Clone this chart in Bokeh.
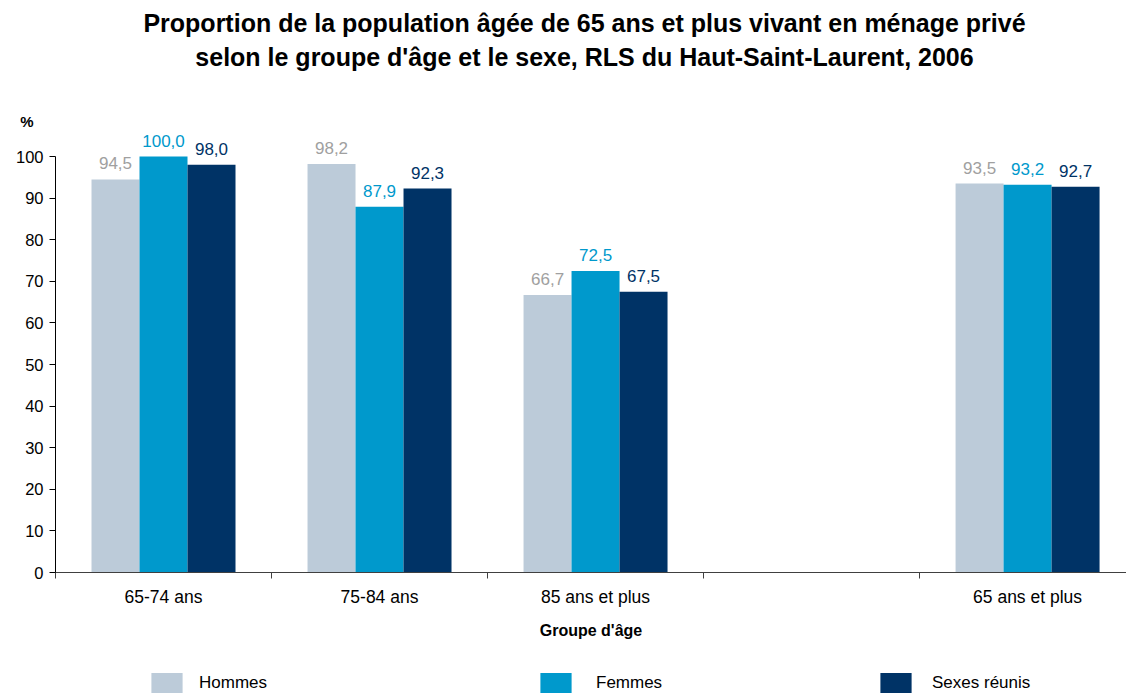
from bokeh.plotting import figure
from bokeh.models import (Range1d, FixedTicker, Legend, LegendItem, Label,
                          ColumnDataSource)
from bokeh.layouts import column
from bokeh.core.properties import value
from bokeh.embed import file_html
from bokeh.resources import INLINE

# ---- data ----
categories = ["65-74 ans", "75-84 ans", "85 ans et plus", "", "65 ans et plus"]
series_names = ["Hommes", "Femmes", "Sexes réunis"]
hommes = [94.5, 98.2, 66.7, None, 93.5]
femmes = [100.0, 87.9, 72.5, None, 93.2]
sexes = [98.0, 92.3, 67.5, None, 92.7]
y_ticks = [0, 10, 20, 30, 40, 50, 60, 70, 80, 90, 100]
title_lines = ["Proportion de la population âgée de 65 ans et plus vivant en ménage privé",
               "selon le groupe d'âge et le sexe, RLS du Haut-Saint-Laurent, 2006"]
x_title = "Groupe d'âge"
y_title = "%"

bar_colors = ["#bccbd9", "#0099cc", "#003366"]
label_colors = ["#a0a0a0", "#0099cc", "#003366"]

FONT = "Liberation Sans"
W = 1126


def bare(fig):
    fig.outline_line_color = None
    fig.grid.visible = False
    fig.background_fill_color = "white"
    fig.border_fill_color = "white"


def series_source(vals, off):
    xs = [i + 0.5 + off for i, v in enumerate(vals) if v is not None]
    ys = [v for v in vals if v is not None]
    txt = [f"{v:.1f}".replace(".", ",") for v in ys]
    return ColumnDataSource(dict(x=xs, top=ys, txt=txt))


bw = 0.2222
offsets = [-bw, 0.0, bw]
all_vals = [hommes, femmes, sexes]

# ---- top strip: titles and "%" (as a y-axis label) ----
TOP_H = 130
tf = figure(width=W, height=TOP_H, output_backend="svg", toolbar_location=None,
            x_range=Range1d(0, 1), y_range=Range1d(0, 1),
            x_axis_location=None, y_axis_location="left",
            min_border=0, min_border_left=0, min_border_right=0,
            min_border_top=0, min_border_bottom=0)
bare(tf)
ta = tf.yaxis[0]
ta.ticker = FixedTicker(ticks=[0.065])
ta.major_label_overrides = {0.065: y_title}
ta.axis_line_color = None
ta.major_tick_line_color = None
ta.minor_tick_line_color = None
ta.major_tick_out = 0
ta.major_label_standoff = 22
ta.major_label_text_font = FONT
ta.major_label_text_font_style = "bold"
ta.major_label_text_font_size = "15px"
ta.major_label_text_color = "black"

tf.add_layout(Label(x=529, y=TOP_H - 22, x_units="screen", y_units="screen",
                    text=title_lines[0], text_align="center",
                    text_font=FONT, text_font_style="bold", text_font_size="25px",
                    text_baseline="middle", text_color="black"))
tf.add_layout(Label(x=529, y=TOP_H - 56.5, x_units="screen", y_units="screen",
                    text=title_lines[1], text_align="center",
                    text_font=FONT, text_font_style="bold", text_font_size="25px",
                    text_baseline="middle", text_color="black"))

# ---- main chart ----
p = figure(width=W, height=656 - TOP_H, output_backend="svg", toolbar_location=None,
           x_range=Range1d(0, 4.958), y_range=Range1d(0, (572 - TOP_H) / 4.16),
           min_border_left=55, min_border_right=0, min_border_top=0,
           min_border_bottom=84)
bare(p)

for vals, col, lcol, off in zip(all_vals, bar_colors, label_colors, offsets):
    src = series_source(vals, off)
    p.vbar(x="x", top="top", width=bw, bottom=0, source=src,
           fill_color=col, line_color=None)
    p.text(x="x", y="top", text="txt", source=src, text_align="center",
           text_baseline="bottom", y_offset=-10, text_color=lcol,
           text_font_size="17px", text_font=value(FONT))

xa = p.xaxis[0]
xa.ticker = FixedTicker(ticks=[i + 0.5 for i, c in enumerate(categories) if c],
                        minor_ticks=list(range(len(categories) + 1)))
xa.major_label_overrides = {i + 0.5: c for i, c in enumerate(categories) if c}
xa.bounds = (0, len(categories))
xa.major_tick_out = 0
xa.major_tick_in = 0
xa.minor_tick_out = 6
xa.minor_tick_in = 0
xa.axis_line_color = "#404040"
xa.minor_tick_line_color = "#404040"
xa.major_label_text_font = FONT
xa.major_label_text_font_size = "17.5px"
xa.major_label_text_color = "black"
xa.major_label_standoff = 8
xa.axis_label = x_title
xa.axis_label_text_font = FONT
xa.axis_label_text_font_style = "bold"
xa.axis_label_text_font_size = "16px"
xa.axis_label_text_color = "black"
xa.axis_label_standoff = 12

ya = p.yaxis[0]
ya.ticker = FixedTicker(ticks=y_ticks)
ya.bounds = (y_ticks[0], y_ticks[-1])
ya.major_tick_out = 6
ya.major_tick_in = 0
ya.minor_tick_out = 0
ya.minor_tick_in = 0
ya.axis_line_color = "black"
ya.major_tick_line_color = "black"
ya.major_label_text_font = FONT
ya.major_label_text_font_size = "16.5px"
ya.major_label_text_color = "black"
ya.major_label_standoff = 6

# ---- legend strip (bars kept outside its visible range) ----
lf = figure(width=W, height=40, output_backend="svg", toolbar_location=None,
            x_range=Range1d(-3, -2), y_range=Range1d(0, 1),
            x_axis_location=None, y_axis_location=None,
            min_border=0, min_border_left=0, min_border_right=0,
            min_border_top=0, min_border_bottom=0)
bare(lf)
legend_x = [92, 481, 821]
legend_gap = [13, 21, 17]
for vals, name, col, off, lx, gap in zip(all_vals, series_names, bar_colors,
                                          offsets, legend_x, legend_gap):
    r = lf.vbar(x="x", top="top", width=bw, bottom=0,
                source=series_source(vals, off),
                fill_color=col, line_color=None)
    lg = Legend(items=[LegendItem(label=name, renderers=[r])],
                location=(lx, 1), orientation="horizontal",
                glyph_width=39, glyph_height=25, label_standoff=gap,
                padding=0, margin=0, spacing=0,
                border_line_color=None, background_fill_alpha=0,
                label_text_font=FONT, label_text_font_size="17px",
                label_text_color="black", label_height=20)
    lf.add_layout(lg, "center")

layout = column(tf, p, lf, spacing=0)
open("out.html", "w").write(file_html(layout, INLINE))
